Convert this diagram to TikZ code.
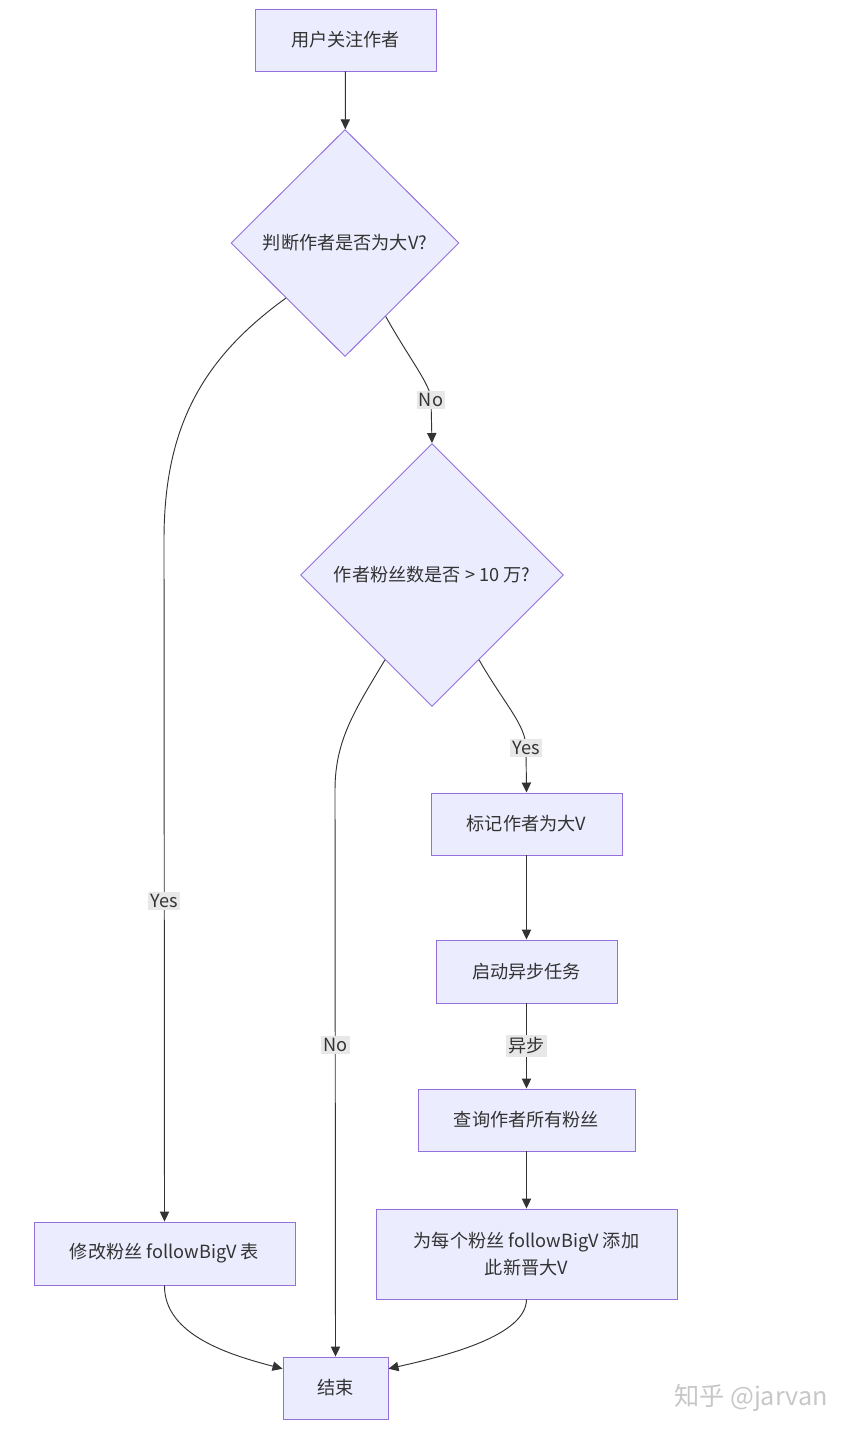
\documentclass[tikz,border=0pt]{standalone}
\usepackage{fontspec}
\usepackage{tikz}
\usetikzlibrary{shapes.geometric,arrows.meta}
\newfontfamily\cjk{Noto Sans CJK SC}
\definecolor{boxfill}{HTML}{ECECFF}
\definecolor{boxline}{HTML}{9370DB}
\definecolor{edgeline}{HTML}{333333}
\definecolor{lblfill}{HTML}{E8E8E8}
\definecolor{txt}{HTML}{333333}

\begin{document}
\begin{tikzpicture}[x=0.03cm, y=-0.03cm,
	box/.style={rectangle, draw=boxline, fill=boxfill, line width=0.8pt, inner sep=0pt, text=txt, align=center, font=\cjk\fontsize{15.5}{23}\selectfont},
	decision/.style={diamond, aspect=1, draw=boxline, fill=boxfill, line width=0.8pt, inner sep=0pt, text=txt, font=\cjk\fontsize{15.5}{23}\selectfont},
	flow/.style={draw=edgeline, line width=0.8pt, -{Triangle[length=0.3cm, width=0.28cm]}},
	lbl/.style={fill=lblfill, inner sep=2pt, text=txt, font=\cjk\fontsize{15.5}{23}\selectfont}]
			\useasboundingbox (0,0) rectangle (852,1438);
			% Nodes
			\node[box, minimum width=5.43cm, minimum height=1.86cm] (start) at (345.5,40) {用户关注作者};
			\node[decision, minimum width=6.84cm, minimum height=6.81cm] (judge) at (345,243) {判断作者是否为大V?};
			\node[decision, minimum width=7.89cm, minimum height=7.89cm] (fans) at (432,575) {作者粉丝数是否 > 10 万?};
			\node[box, minimum width=5.73cm, minimum height=1.86cm] (mark) at (526.5,824) {标记作者为大V};
			\node[box, minimum width=5.43cm, minimum height=1.89cm] (task) at (526.5,971.5) {启动异步任务};
			\node[box, minimum width=6.51cm, minimum height=1.86cm] (query) at (526.5,1120) {查询作者所有粉丝};
			\node[box, minimum width=9.03cm, minimum height=2.70cm] (add) at (526.5,1254) {为每个粉丝 followBigV 添加\\此新晋大V};
			\node[box, minimum width=7.83cm, minimum height=1.89cm] (modify) at (164.5,1253.5) {修改粉丝 followBigV 表};
			\node[box, minimum width=3.15cm, minimum height=1.86cm] (stop) at (335.5,1388) {结束};
			\node[text=black!22, font=\cjk\fontsize{21.5}{26}\selectfont] (brand) at (751,1398) {知乎 @jarvan};
			% Edges
			\draw[flow] (start) -- (judge);
			\draw[flow] (judge.-61) .. controls (410,360) and (431,385) .. (431,400) node[lbl]{No} -- (fans.north);
			\draw[flow] (judge.-137) .. controls (200,360) and (164,430) .. (164,540) -- node[lbl, pos=0.53]{Yes} (modify.north);
			\draw[flow] (fans.-61) .. controls (505,705) and (526,725) .. (526,748) node[lbl]{Yes} -- (mark.north);
			\draw[flow] (fans.-119) .. controls (355,710) and (335,740) .. (335,790) -- node[lbl, pos=0.45]{No} (stop.north);
			\draw[flow] (mark) -- (task);
			\draw[flow] (task) -- node[lbl]{异步} (query);
			\draw[flow] (query) -- (add);
			\draw[flow] (modify.south) .. controls (164,1335) and (230,1355) .. (stop.160);
			\draw[flow] (add.south) .. controls (526,1335) and (450,1355) .. (stop.20);
		\end{tikzpicture}
\end{document}
